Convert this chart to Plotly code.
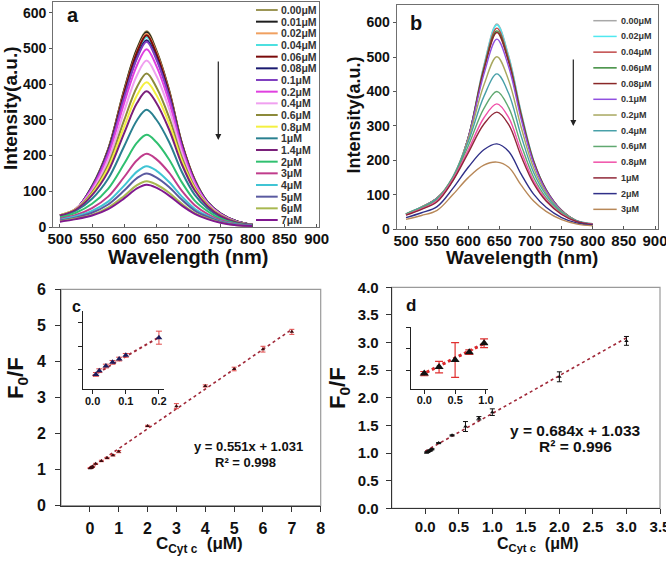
import plotly.graph_objects as go

W, H = 666, 561
FONT = "Liberation Sans, Arial, sans-serif"


def px(x):
    return x / W


def py(y):
    return 1 - y / H


# ---------------- Panel a data ----------------
wl_a = [500, 525, 550, 575, 600, 620, 635, 650, 670, 690, 710, 730, 750, 775, 800]
labels_a = ["0.00μM", "0.01μM", "0.02μM", "0.04μM", "0.06μM", "0.08μM", "0.1μM",
            "0.2μM", "0.4μM", "0.6μM", "0.8μM", "1μM", "1.4μM", "2μM", "3μM",
            "4μM", "5μM", "6μM", "7μM"]
colors_a = ["#9c9656", "#1e1e1e", "#f0a060", "#4de0e0", "#7a0a0a", "#1a1a70", "#8040c0",
            "#e040e0", "#f0a0f0", "#8c8a3a", "#f4f040", "#2a8090", "#7a207a", "#30c070",
            "#c03c8c", "#40c4d4", "#5a5aa0", "#a8b850", "#801890"]
a_0_00 = [32, 50, 115, 218, 385, 500, 548, 496, 384, 235, 133, 70, 38, 16, 6]
a_0_01 = [32, 50, 114, 217, 383, 497, 545, 493, 382, 234, 132, 70, 38, 16, 6]
a_0_02 = [32, 50, 113, 215, 379, 492, 541, 490, 379, 232, 131, 69, 37, 16, 6]
a_0_04 = [32, 50, 113, 213, 372, 484, 532, 482, 373, 230, 129, 69, 37, 16, 6]
a_0_06 = [32, 50, 113, 214, 376, 489, 537, 486, 376, 232, 130, 69, 37, 16, 6]
a_0_08 = [32, 50, 112, 210, 365, 476, 523, 474, 368, 227, 128, 69, 37, 16, 6]
a_0_1 = [32, 50, 111, 208, 363, 472, 519, 470, 365, 226, 127, 68, 37, 15, 6]
a_0_2 = [33, 51, 108, 200, 347, 453, 498, 452, 351, 219, 124, 67, 36, 15, 6]
a_0_4 = [33, 51, 103, 188, 324, 425, 466, 424, 331, 208, 118, 65, 35, 15, 6]
a_0_6 = [33, 50, 97, 174, 299, 392, 430, 392, 307, 194, 111, 62, 33, 14, 6]
a_0_8 = [33, 50, 93, 165, 281, 369, 405, 370, 290, 185, 107, 60, 32, 13, 6]
a_1 = [31, 46, 79, 135, 226, 299, 328, 301, 238, 154, 90, 52, 28, 12, 6]
a_1_4 = [32, 49, 89, 155, 263, 347, 380, 348, 273, 175, 102, 58, 31, 13, 6]
a_2 = [27, 40, 65, 107, 177, 236, 258, 238, 189, 125, 74, 44, 23, 10, 5]
a_3 = [23, 34, 53, 85, 140, 187, 205, 190, 152, 101, 61, 36, 19, 8, 5]
a_4 = [20, 30, 45, 71, 116, 155, 170, 158, 126, 85, 51, 31, 16, 7, 4]
a_5 = [18, 27, 40, 63, 102, 137, 150, 139, 112, 76, 46, 28, 15, 6, 4]
a_6 = [16, 24, 34, 54, 87, 117, 128, 119, 96, 65, 39, 24, 13, 5, 3]
a_7 = [15, 22, 32, 50, 80, 108, 118, 110, 88, 60, 37, 22, 12, 5, 3]
series_a = [a_0_00, a_0_01, a_0_02, a_0_04, a_0_06, a_0_08, a_0_1, a_0_2, a_0_4, a_0_6,
            a_0_8, a_1, a_1_4, a_2, a_3, a_4, a_5, a_6, a_7]

# ---------------- Panel b data ----------------
wl_b = [500, 525, 550, 575, 600, 625, 646, 665, 685, 705, 725, 750, 775, 800]
labels_b = ["0.00μM", "0.02μM", "0.04μM", "0.06μM", "0.08μM", "0.1μM", "0.2μM",
            "0.4μM", "0.6μM", "0.8μM", "1μM", "2μM", "3μM"]
colors_b = ["#a8a8a8", "#50e8f0", "#c04848", "#3a8a3a", "#8a2828", "#9050e0", "#a8a860",
            "#48a0a8", "#60a870", "#f050a8", "#902838", "#303088", "#b88858"]
b_0_00 = [43, 63, 90, 140, 266, 475, 596, 503, 340, 200, 116, 55, 24, 15]
b_0_02 = [43, 63, 90, 141, 266, 473, 593, 501, 338, 200, 116, 55, 24, 15]
b_0_04 = [43, 64, 91, 142, 266, 468, 584, 494, 334, 198, 115, 55, 24, 15]
b_0_06 = [44, 64, 91, 143, 266, 464, 576, 488, 331, 196, 114, 54, 24, 15]
b_0_08 = [44, 64, 91, 144, 266, 461, 571, 485, 328, 195, 114, 54, 24, 15]
b_0_1 = [44, 65, 91, 147, 266, 449, 552, 471, 320, 191, 112, 54, 24, 15]
b_0_2 = [45, 65, 91, 151, 262, 418, 501, 432, 296, 178, 106, 52, 24, 16]
b_0_4 = [45, 64, 89, 151, 254, 385, 451, 394, 271, 165, 100, 50, 24, 16]
b_0_6 = [44, 62, 86, 148, 242, 350, 400, 353, 245, 151, 92, 47, 23, 15]
b_0_8 = [42, 59, 83, 144, 230, 323, 364, 324, 226, 140, 86, 44, 22, 15]
b_1 = [41, 58, 80, 140, 222, 305, 340, 304, 212, 133, 82, 43, 22, 14]
b_2 = [34, 48, 66, 118, 180, 231, 248, 226, 160, 102, 64, 34, 18, 12]
b_3 = [29, 40, 55, 100, 150, 186, 195, 180, 128, 82, 52, 28, 15, 10]
series_b = [b_0_00, b_0_02, b_0_04, b_0_06, b_0_08, b_0_1, b_0_2, b_0_4, b_0_6, b_0_8,
            b_1, b_2, b_3]

# ---------------- Panel c data ----------------
conc_c = [0.01, 0.02, 0.04, 0.06, 0.08, 0.1, 0.2, 0.4, 0.6, 0.8, 1, 2, 3, 4, 5, 6, 7]
ratio_c = [1.04, 1.045, 1.05, 1.06, 1.07, 1.09, 1.16, 1.24, 1.32, 1.40, 1.50, 2.21,
           2.76, 3.32, 3.79, 4.34, 4.82]
err_c = [0.01, 0.01, 0.01, 0.01, 0.01, 0.01, 0.015, 0.02, 0.02, 0.02, 0.03, 0.02,
         0.07, 0.03, 0.05, 0.08, 0.07]
slope_c, intercept_c = 0.551, 1.031
fit_x_c = [0, 7]
inset_conc_c = [0.01, 0.02, 0.04, 0.06, 0.08, 0.1, 0.2]
inset_ratio_c = [1.039, 1.047, 1.057, 1.065, 1.072, 1.08, 1.118]
inset_err_c = [0.004, 0.004, 0.004, 0.004, 0.004, 0.004, 0.014]
inset_fit_x_c = [0.0, 0.2]
inset_fit_y_c = [1.036, 1.119]

# ---------------- Panel d data ----------------
conc_d = [0.02, 0.04, 0.06, 0.08, 0.1, 0.2, 0.4, 0.6, 0.8, 1, 2, 3]
ratio_d = [1.01, 1.02, 1.04, 1.05, 1.07, 1.18, 1.32, 1.48, 1.63, 1.74, 2.38, 3.03]
err_d = [0.01, 0.01, 0.01, 0.01, 0.01, 0.01, 0.01, 0.09, 0.03, 0.06, 0.09, 0.08]
slope_d, intercept_d = 0.684, 1.033
fit_x_d = [0, 3]
inset_conc_d = [0.0, 0.24, 0.5, 0.73, 0.97]
inset_ratio_d = [0.984, 1.015, 1.048, 1.085, 1.127]
inset_err_d = [0.01, 0.027, 0.082, 0.011, 0.021]
inset_fit_x_d = [-0.05, 1.0]
inset_fit_y_d = [0.978, 1.13]

fig = go.Figure()

for lab, col, ys in zip(labels_a, colors_a, series_a):
    fig.add_trace(go.Scatter(x=wl_a, y=ys, mode="lines", name=lab,
                             line=dict(color=col, width=2, shape="spline", smoothing=1.0),
                             xaxis="x", yaxis="y", showlegend=False))
for lab, col, ys in zip(labels_b, colors_b, series_b):
    fig.add_trace(go.Scatter(x=wl_b, y=ys, mode="lines", name=lab,
                             line=dict(color=col, width=1.4, shape="spline", smoothing=1.0),
                             xaxis="x2", yaxis="y2", showlegend=False))

# panel c
fig.add_trace(go.Scatter(x=fit_x_c, y=[slope_c * v + intercept_c for v in fit_x_c], mode="lines",
                         line=dict(color="#a02838", width=1.6, dash="dot"),
                         xaxis="x3", yaxis="y3", showlegend=False))
fig.add_trace(go.Scatter(x=conc_c, y=ratio_c, mode="markers",
                         marker=dict(symbol="triangle-up", size=4, color="#3a0c10"),
                         error_y=dict(type="data", array=err_c, color="#e04848", thickness=1, width=2.5),
                         xaxis="x3", yaxis="y3", showlegend=False))
fig.add_trace(go.Scatter(x=inset_fit_x_c, y=inset_fit_y_c, mode="lines",
                         line=dict(color="#a02838", width=2, dash="dot"),
                         xaxis="x5", yaxis="y5", showlegend=False))
fig.add_trace(go.Scatter(x=inset_conc_c, y=inset_ratio_c, mode="markers",
                         marker=dict(symbol="triangle-up", size=6, color="#1c1c5c"),
                         error_y=dict(type="data", array=inset_err_c, color="#e04848", thickness=1, width=3),
                         xaxis="x5", yaxis="y5", showlegend=False))

# panel d
fig.add_trace(go.Scatter(x=fit_x_d, y=[slope_d * v + intercept_d for v in fit_x_d], mode="lines",
                         line=dict(color="#a02838", width=1.6, dash="dot"),
                         xaxis="x4", yaxis="y4", showlegend=False))
fig.add_trace(go.Scatter(x=conc_d, y=ratio_d, mode="markers",
                         marker=dict(symbol="triangle-up", size=4, color="#111111"),
                         error_y=dict(type="data", array=err_d, color="#111111", thickness=1, width=2.5),
                         xaxis="x4", yaxis="y4", showlegend=False))
fig.add_trace(go.Scatter(x=inset_fit_x_d, y=inset_fit_y_d, mode="lines",
                         line=dict(color="#4060c0", width=1.5, dash="dot"),
                         xaxis="x6", yaxis="y6", showlegend=False))
fig.add_trace(go.Scatter(x=inset_fit_x_d, y=inset_fit_y_d, mode="lines",
                         line=dict(color="#e02828", width=3, dash="dot"),
                         xaxis="x6", yaxis="y6", showlegend=False))
fig.add_trace(go.Scatter(x=inset_conc_d, y=inset_ratio_d, mode="markers",
                         marker=dict(symbol="triangle-up", size=8, color="#111111"),
                         error_y=dict(type="data", array=inset_err_d, color="#e03030", thickness=1.2, width=4),
                         xaxis="x6", yaxis="y6", showlegend=False))


def tf(size):
    return dict(family=FONT, size=size, color="#111111", weight="bold")


frame = dict(showline=True, linecolor="#707070", linewidth=1.2, mirror=True, zeroline=False,
             showgrid=False, automargin=False)
plain = dict(showline=True, zeroline=False, showgrid=False, automargin=False)

layout = dict(
    width=W, height=H, margin=dict(l=0, r=0, t=0, b=0, autoexpand=False),
    paper_bgcolor="white", plot_bgcolor="white",
    font=dict(family=FONT, color="#111111"),
    xaxis=dict(domain=[px(53.3), px(319)], range=[489.6, 903.6], tickvals=list(range(500, 901, 50)),
               ticks="inside", ticklen=3, tickcolor="#555", tickfont=tf(15), anchor="y",
               ticklabelstandoff=-2, ticklabeloverflow="allow", **frame),
    yaxis=dict(domain=[py(227), py(2)], range=[0, 630], tickvals=list(range(0, 601, 100)),
               ticks="outside", ticklen=3, tickcolor="#555", tickfont=tf(14), anchor="x", **frame),
    xaxis2=dict(domain=[px(396.7), px(658)], range=[485.1, 904.8], tickvals=list(range(500, 901, 50)),
                ticks="inside", ticklen=3, tickcolor="#555", tickfont=tf(15), anchor="y2",
                ticklabelstandoff=-2, ticklabeloverflow="allow", **frame),
    yaxis2=dict(domain=[py(229.3), py(5)], range=[0, 651], tickvals=list(range(0, 601, 100)),
                ticks="outside", ticklen=3, tickcolor="#555", tickfont=tf(14), anchor="x2", **frame),
    xaxis3=dict(domain=[px(61), px(320.7)], range=[-1, 8], tickvals=list(range(0, 9)),
                ticks="outside", ticklen=5, tickcolor="#333", tickfont=tf(16), ticklabelstandoff=3,
                ticklabeloverflow="allow", linecolor="#333", anchor="y3", **plain),
    yaxis3=dict(domain=[py(505.7), py(289.3)], range=[0, 6], tickvals=list(range(0, 7)),
                ticks="outside", ticklen=5, tickcolor="#333", tickfont=tf(16), ticklabelstandoff=6,
                linecolor="#333", anchor="x3", **plain),
    xaxis4=dict(domain=[px(391.7), px(660)], range=[-0.5, 3.5], tickvals=[0, 0.5, 1, 1.5, 2, 2.5, 3, 3.5],
                tickformat=".1f", ticks="outside", ticklen=5, tickcolor="#333", tickfont=tf(15),
                ticklabeloverflow="allow", linecolor="#333", anchor="y4", **plain),
    yaxis4=dict(domain=[py(508.3), py(287.3)], range=[0, 4], tickvals=[0, 0.5, 1, 1.5, 2, 2.5, 3, 3.5, 4],
                tickformat=".1f", ticks="outside", ticklen=5, tickcolor="#333", tickfont=tf(15),
                ticklabelstandoff=4, linecolor="#333", anchor="x4", **plain),
    xaxis5=dict(domain=[px(82.7), px(163.9)], range=[-0.03, 0.215], tickvals=[0, 0.1, 0.2],
                tickformat=".1f", ticks="outside", ticklen=4, tickcolor="#222", tickfont=tf(11),
                ticklabelstandoff=-3, ticklabeloverflow="allow", linecolor="#222", anchor="y5", **plain),
    yaxis5=dict(domain=[py(389.3), py(310.7)], range=[1.007, 1.176], tickvals=[1.05, 1.10, 1.15],
                showticklabels=False, ticks="outside", ticklen=4, tickcolor="#222",
                linecolor="#222", anchor="x5", **plain),
    xaxis6=dict(domain=[px(410.7), px(488.4)], range=[-0.22, 1.04], tickvals=[0, 0.5, 1.0],
                tickformat=".1f", ticks="outside", ticklen=4, tickcolor="#222", tickfont=tf(11),
                ticklabelstandoff=-3, ticklabeloverflow="allow", linecolor="#222", anchor="y6", **plain),
    yaxis6=dict(domain=[py(388.7), py(326.7)], range=[0.913, 1.205], tickvals=[1.0, 1.1, 1.2],
                showticklabels=False, ticks="outside", ticklen=4, tickcolor="#222",
                linecolor="#222", anchor="x6", **plain),
)
fig.update_layout(**layout)

shapes = []
annotations = []

# frames for c and d
for ax in ["3", "4"]:
    shapes.append(dict(type="rect", xref=f"x{ax} domain", yref=f"y{ax} domain", x0=0, x1=1, y0=0, y1=1,
                       line=dict(color="#9a9a9a", width=1.2), layer="below"))

# manual legends
for i, (lab, col) in enumerate(zip(labels_a, colors_a)):
    yy = py(10 + i * 11.667)
    shapes.append(dict(type="line", xref="paper", yref="paper", x0=px(256), x1=px(277.7), y0=yy, y1=yy,
                       line=dict(color=col, width=2)))
    annotations.append(dict(text=lab, xref="paper", yref="paper", x=px(279.3), y=yy, xanchor="left",
                            yanchor="middle", showarrow=False, font=dict(family=FONT, size=10.5,
                                                                         color="#333", weight="bold")))
for i, (lab, col) in enumerate(zip(labels_b, colors_b)):
    yy = py(20.7 + i * 15.72)
    shapes.append(dict(type="line", xref="paper", yref="paper", x0=px(593.3), x1=px(616.7), y0=yy, y1=yy,
                       line=dict(color=col, width=1.5)))
    annotations.append(dict(text=lab, xref="paper", yref="paper", x=px(619.3), y=yy, xanchor="left",
                            yanchor="middle", showarrow=False, font=dict(family=FONT, size=9,
                                                                         color="#333", weight="bold")))


def txt(text, x, y, size, angle=0, xanchor="center"):
    annotations.append(dict(text=text, xref="paper", yref="paper", x=px(x), y=py(y), xanchor=xanchor,
                            yanchor="middle", showarrow=False, textangle=angle,
                            font=dict(family=FONT, size=size, color="#111111", weight="bold")))


# axis titles
txt("Intensity(a.u.)", 10, 108, 19, angle=-90)
txt("Wavelength (nm)", 188.3, 257, 20)
txt("Intensity(a.u.)", 353.5, 115, 18, angle=-90)
txt("Wavelength (nm)", 521.7, 257.7, 19)
txt("F<sub>0</sub>/F", 17, 378, 22, angle=-90)
txt("F<sub>0</sub>/F", 339, 388, 22, angle=-90)
txt("C<sub>Cyt c</sub>  (μM)", 199, 545, 17)
txt("C<sub>Cyt c</sub>  (μM)", 538, 544, 16)

# panel letters
txt("a", 73, 15, 20)
txt("b", 416, 22.5, 20)
txt("c", 76, 306, 16)
txt("d", 410.5, 305, 17)

# equations
txt("y = 0.551x + 1.031", 248, 446.5, 13)
txt("R² = 0.998", 245.5, 462.3, 13)
txt("y = 0.684x + 1.033", 575, 430, 15.5)
txt("R² = 0.996", 575, 446, 15.5)

# arrows
for (ax_x, y_end, y_start) in [(218.3, 140, 60), (573.3, 126, 58)]:
    annotations.append(dict(text="", xref="paper", yref="paper", x=px(ax_x), y=py(y_end),
                            ax=0, ay=-(y_end - y_start), showarrow=True, arrowhead=2, arrowsize=1,
                            arrowwidth=1.2, arrowcolor="#222"))

fig.update_layout(shapes=shapes, annotations=annotations)
fig.write_html("out.html", config={"displayModeBar": False},
               post_script="document.body.style.margin='0px';")
